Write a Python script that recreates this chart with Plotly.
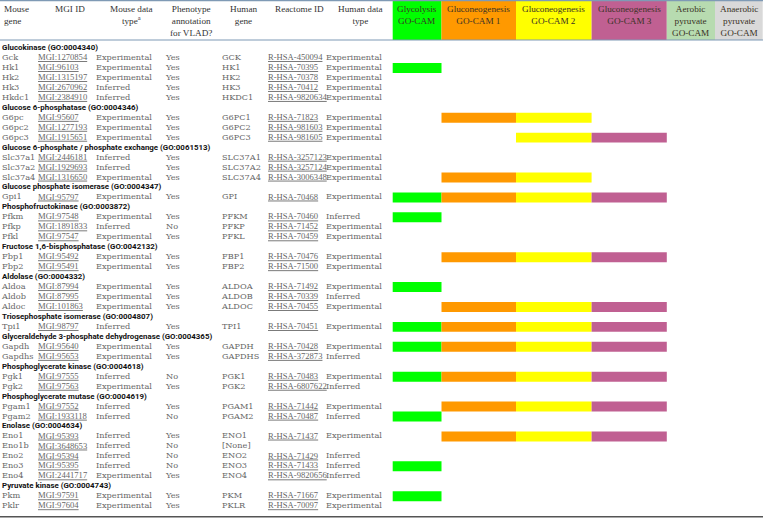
import plotly.graph_objects as go

# ---------------- data ----------------
group_names = [
    "Glucokinase (GO:0004340)",
    "Glucose 6-phosphatase (GO:0004346)",
    "Glucose 6-phosphate / phosphate exchange (GO:0061513)",
    "Glucose phosphate isomerase (GO:0004347)",
    "Phosphofructokinase (GO:0003872)",
    "Fructose 1,6-bisphosphatase (GO:0042132)",
    "Aldolase (GO:0004332)",
    "Triosephosphate isomerase (GO:0004807)",
    "Glyceraldehyde 3-phosphate dehydrogenase (GO:0004365)",
    "Phosphoglycerate kinase (GO:0004618)",
    "Phosphoglycerate mutase (GO:0004619)",
    "Enolase (GO:0004634)",
    "Pyruvate kinase (GO:0004743)",
]
group_sizes = [5, 3, 3, 1, 3, 2, 3, 1, 2, 2, 2, 5, 2]

mouse_genes = ["Gck", "Hk1", "Hk2", "Hk3", "Hkdc1",
               "G6pc", "G6pc2", "G6pc3",
               "Slc37a1", "Slc37a2", "Slc37a4",
               "Gpi1",
               "Pfkm", "Pfkp", "Pfkl",
               "Fbp1", "Fbp2",
               "Aldoa", "Aldob", "Aldoc",
               "Tpi1",
               "Gapdh", "Gapdhs",
               "Pgk1", "Pgk2",
               "Pgam1", "Pgam2",
               "Eno1", "Eno1b", "Eno2", "Eno3", "Eno4",
               "Pkm", "Pklr"]
mgi_ids = ["MGI:1270854", "MGI:96103", "MGI:1315197", "MGI:2670962", "MGI:2384910",
           "MGI:95607", "MGI:1277193", "MGI:1915651",
           "MGI:2446181", "MGI:1929693", "MGI:1316650",
           "MGI:95797",
           "MGI:97548", "MGI:1891833", "MGI:97547",
           "MGI:95492", "MGI:95491",
           "MGI:87994", "MGI:87995", "MGI:101863",
           "MGI:98797",
           "MGI:95640", "MGI:95653",
           "MGI:97555", "MGI:97563",
           "MGI:97552", "MGI:1933118",
           "MGI:95393", "MGI:3648653", "MGI:95394", "MGI:95395", "MGI:2441717",
           "MGI:97591", "MGI:97604"]
mouse_types = ["Experimental", "Experimental", "Experimental", "Inferred", "Inferred",
               "Experimental", "Experimental", "Experimental",
               "Inferred", "Inferred", "Experimental",
               "Experimental",
               "Experimental", "Inferred", "Experimental",
               "Experimental", "Experimental",
               "Experimental", "Experimental", "Experimental",
               "Inferred",
               "Experimental", "Experimental",
               "Inferred", "Experimental",
               "Inferred", "Inferred",
               "Inferred", "Inferred", "Inferred", "Inferred", "Experimental",
               "Experimental", "Experimental"]
phenotype = ["Yes", "Yes", "Yes", "Yes", "Yes",
             "Yes", "Yes", "Yes",
             "Yes", "Yes", "Yes",
             "Yes",
             "Yes", "No", "Yes",
             "Yes", "Yes",
             "Yes", "Yes", "Yes",
             "Yes",
             "Yes", "Yes",
             "No", "Yes",
             "Yes", "No",
             "Yes", "No", "No", "No", "Yes",
             "Yes", "Yes"]
human_genes = ["GCK", "HK1", "HK2", "HK3", "HKDC1",
               "G6PC1", "G6PC2", "G6PC3",
               "SLC37A1", "SLC37A2", "SLC37A4",
               "GPI",
               "PFKM", "PFKP", "PFKL",
               "FBP1", "FBP2",
               "ALDOA", "ALDOB", "ALDOC",
               "TPI1",
               "GAPDH", "GAPDHS",
               "PGK1", "PGK2",
               "PGAM1", "PGAM2",
               "ENO1", "[None]", "ENO2", "ENO3", "ENO4",
               "PKM", "PKLR"]
reactome_ids = ["R-HSA-450094", "R-HSA-70395", "R-HSA-70378", "R-HSA-70412", "R-HSA-9820634",
                "R-HSA-71823", "R-HSA-981603", "R-HSA-981605",
                "R-HSA-3257123", "R-HSA-3257124", "R-HSA-3006348",
                "R-HSA-70468",
                "R-HSA-70460", "R-HSA-71452", "R-HSA-70459",
                "R-HSA-70476", "R-HSA-71500",
                "R-HSA-71492", "R-HSA-70339", "R-HSA-70455",
                "R-HSA-70451",
                "R-HSA-70428", "R-HSA-372873",
                "R-HSA-70483", "R-HSA-6807622",
                "R-HSA-71442", "R-HSA-70487",
                "R-HSA-71437", None, "R-HSA-71429", "R-HSA-71433", "R-HSA-9820656",
                "R-HSA-71667", "R-HSA-70097"]
human_types = ["Experimental", "Experimental", "Experimental", "Experimental", "Experimental",
               "Experimental", "Experimental", "Experimental",
               "Experimental", "Experimental", "Experimental",
               "Experimental",
               "Inferred", "Experimental", "Experimental",
               "Experimental", "Experimental",
               "Experimental", "Inferred", "Experimental",
               "Experimental",
               "Experimental", "Inferred",
               "Experimental", "Inferred",
               "Experimental", "Inferred",
               "Experimental", None, "Inferred", "Inferred", "Inferred",
               "Experimental", "Experimental"]

column_headers = ["Mouse<br>gene", "MGI ID", "Mouse data<br>type<sup>a</sup>",
                  "Phenotype<br>annotation<br>for VLAD?", "Human<br>gene",
                  "Reactome ID", "Human data<br>type"]
gocam_headers = ["Glycolysis<br>GO-CAM", "Gluconeogenesis<br>GO-CAM 1",
                 "Gluconeogenesis<br>GO-CAM 2", "Gluconeogenesis<br>GO-CAM 3",
                 "Aerobic<br>pyruvate<br>GO-CAM", "Anaerobic<br>pyruvate<br>GO-CAM"]

glycolysis_genes = ["Hk1", "Gpi1", "Pfkm", "Aldoa", "Tpi1", "Gapdh", "Pgk1", "Pgam2", "Eno3", "Pkm"]
gng1_genes = ["G6pc", "Slc37a4", "Gpi1", "Fbp1", "Aldoc", "Tpi1", "Gapdh", "Pgk1", "Pgam1", "Eno1"]
gng2_genes = ["G6pc", "G6pc3", "Slc37a4", "Gpi1", "Fbp1", "Aldoc", "Tpi1", "Gapdh", "Pgk1", "Pgam1", "Eno1"]
gng3_genes = ["G6pc3", "Gpi1", "Fbp1", "Aldoc", "Tpi1", "Gapdh", "Pgk1", "Pgam1", "Eno1"]
aerobic_genes = []
anaerobic_genes = []

# ---------------- layout / style ----------------
W, H = 763, 518
ROW0_PX, ROW_PX = 48.0, 9.96
HEADER_BOTTOM_PX = 40.0


def py(px):
    return (px - ROW0_PX) / ROW_PX


Y_TOP = py(0)
Y_BOTTOM = py(H)

text_col_x = [2, 38, 96, 166, 222, 268, 326]
header_col_x = [2, 70, 131, 191, 243, 299, 360]
gocam_edges = [392.7, 441.5, 516.0, 591.6, 666.8, 715.0, 762.7]
gocam_colors = ["#00ff00", "#ff9900", "#ffff00", "#c06092", "#b7dbb0", "#d9d9d9"]

WORD_FONT = "DejaVu Serif"
WORD_SIZE = 8.2
ID_FONT = "Liberation Serif"
ID_SIZE = 8.6
BODY_COLOR = "#666666"
HEAD_FONT = "Roboto"

# row indices
heading_rows, gene_rows = [], []
r = 0
for size in group_sizes:
    heading_rows.append(r)
    r += 1
    for _ in range(size):
        gene_rows.append(r)
        r += 1
row_of = dict(zip(mouse_genes, gene_rows))

fig = go.Figure()

# header coloured cells
hdr_center = (py(0.0) + py(HEADER_BOTTOM_PX)) / 2
hdr_height = py(HEADER_BOTTOM_PX) - py(0.0)
fig.add_trace(go.Bar(
    orientation="h",
    y=[hdr_center] * len(gocam_headers),
    base=gocam_edges[:-1],
    x=[gocam_edges[i + 1] - gocam_edges[i] for i in range(len(gocam_headers))],
    width=hdr_height,
    marker=dict(color=gocam_colors, line=dict(width=0)),
    hoverinfo="skip",
))

# GO-CAM membership bars
memberships = [glycolysis_genes, gng1_genes, gng2_genes, gng3_genes, aerobic_genes, anaerobic_genes]
for i, genes in enumerate(memberships):
    if not genes:
        continue
    fig.add_trace(go.Bar(
        orientation="h",
        y=[row_of[g] for g in genes],
        base=[gocam_edges[i]] * len(genes),
        x=[gocam_edges[i + 1] - gocam_edges[i]] * len(genes),
        width=1.0,
        marker=dict(color=gocam_colors[i], line=dict(width=0)),
        hoverinfo="skip",
    ))

# group headings
fig.add_trace(go.Scatter(
    x=[text_col_x[0]] * len(group_names), y=heading_rows, text=group_names,
    mode="text", textposition="middle right",
    textfont=dict(family=HEAD_FONT, size=7.9, color="#111111", weight="bold"),
    hoverinfo="skip",
))

# body columns
columns = [mouse_genes, mgi_ids, mouse_types, phenotype, human_genes, reactome_ids, human_types]
is_id = [False, True, False, False, False, True, False]
for ci, col in enumerate(columns):
    if is_id[ci]:
        font = dict(family=ID_FONT, size=ID_SIZE, color=BODY_COLOR, lineposition="under")
    else:
        font = dict(family=WORD_FONT, size=WORD_SIZE, color=BODY_COLOR)
    xs = [text_col_x[ci] for v in col if v]
    ys = [gene_rows[k] for k, v in enumerate(col) if v]
    ts = [v for v in col if v]
    fig.add_trace(go.Scatter(
        x=xs, y=ys, text=ts,
        mode="text", textposition="middle right",
        textfont=font, hoverinfo="skip",
    ))

annotations = []
for ci, label in enumerate(column_headers):
    annotations.append(dict(
        x=header_col_x[ci], y=py(2), xref="x", yref="y", text=label,
        showarrow=False, xanchor="left" if ci == 0 else "center", yanchor="top",
        align="left" if ci == 0 else "center",
        font=dict(family=ID_FONT, size=9.2, color="#333333"),
    ))
for i, label in enumerate(gocam_headers):
    annotations.append(dict(
        x=(gocam_edges[i] + gocam_edges[i + 1]) / 2, y=py(2), xref="x", yref="y",
        text=label, showarrow=False, xanchor="center", yanchor="top", align="center",
        font=dict(family=ID_FONT, size=9.2, color="#3a3226"),
    ))

shapes = [
    dict(type="line", xref="paper", yref="y", x0=0, x1=1, y0=py(0.6), y1=py(0.6),
         line=dict(color="#7f9ab5", width=1.2)),
    dict(type="line", xref="paper", yref="y", x0=0, x1=1, y0=py(HEADER_BOTTOM_PX), y1=py(HEADER_BOTTOM_PX),
         line=dict(color="#7f9ab5", width=1.2)),
    dict(type="line", xref="paper", yref="y", x0=0, x1=1, y0=py(516.8), y1=py(516.8),
         line=dict(color="#555555", width=1.6)),
]

fig.update_layout(
    width=W, height=H,
    margin=dict(l=0, r=0, t=0, b=0),
    paper_bgcolor="white", plot_bgcolor="white",
    showlegend=False, barmode="overlay",
    xaxis=dict(range=[0, W], visible=False, fixedrange=True),
    yaxis=dict(range=[Y_BOTTOM, Y_TOP], visible=False, fixedrange=True),
    annotations=annotations, shapes=shapes,
)

fig.write_html("out.html", config={"displayModeBar": False},
               post_script="document.body.style.margin='0';document.body.style.overflow='hidden';")
